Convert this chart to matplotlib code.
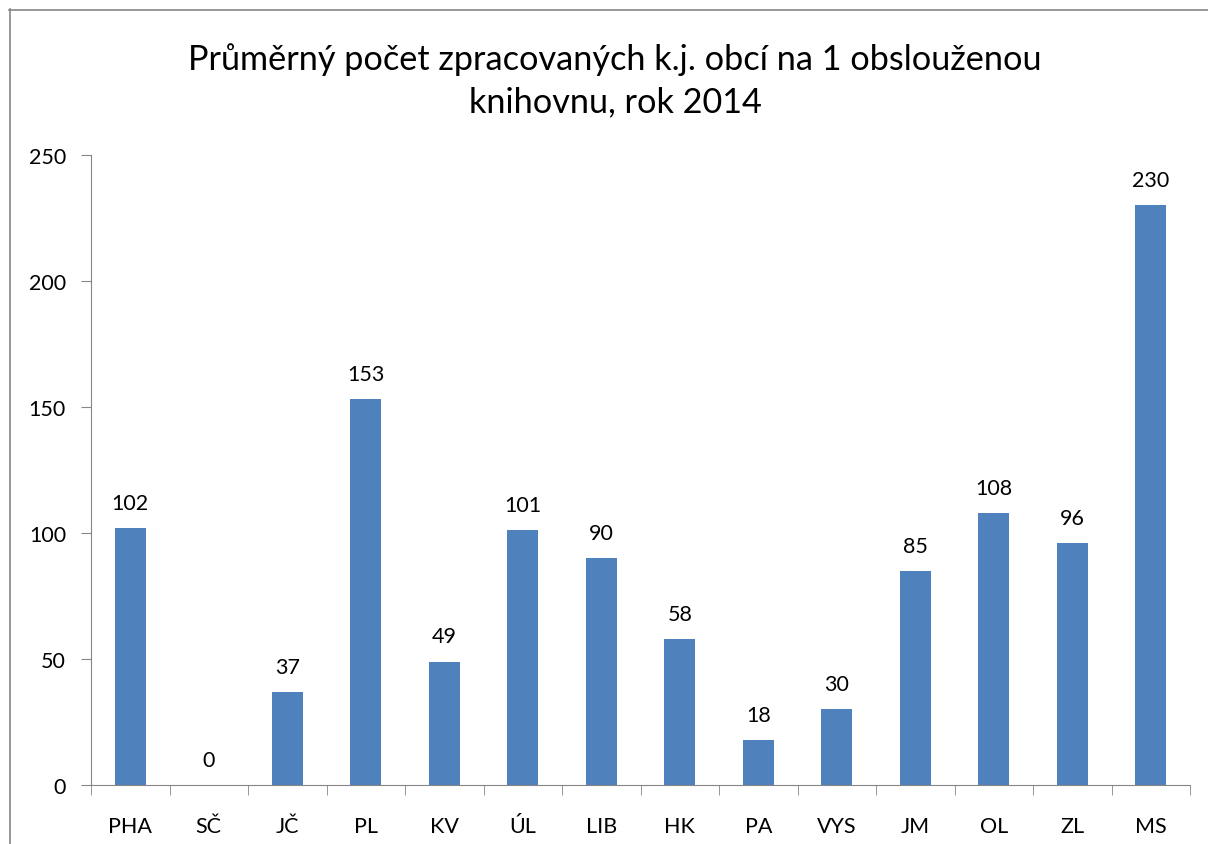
import matplotlib.pyplot as plt
from matplotlib.lines import Line2D

plt.rcParams['font.family'] = ['Lato', 'DejaVu Sans']

regions = ['PHA', 'SČ', 'JČ', 'PL', 'KV', 'ÚL', 'LIB', 'HK', 'PA', 'VYS', 'JM', 'OL', 'ZL', 'MS']
values = [102, 0, 37, 153, 49, 101, 90, 58, 18, 30, 85, 108, 96, 230]

fig = plt.figure(figsize=(12.08, 8.45), dpi=100)
ax = fig.add_axes([91 / 1208, 1 - 786 / 845, (1190 - 91) / 1208, (786 - 156) / 845])

x = list(range(len(regions)))
bars = ax.bar(x, values, width=0.4, color='#4f81bd')
for xi, v in zip(x, values):
    ax.text(xi, v + 6, str(v), ha='center', va='bottom', fontsize=15.5)

ax.set_xlim(-0.5, len(regions) - 0.5)
ax.set_ylim(0, 250)
ax.set_yticks(range(0, 251, 50))
ax.set_xticks(x)
ax.set_xticklabels(regions)
ax.set_xticks([i - 0.5 for i in range(len(regions) + 1)], minor=True)
ax.tick_params(axis='x', which='major', length=0, pad=22, labelsize=15.5)
ax.tick_params(axis='x', which='minor', length=7, color='#868686')
ax.tick_params(axis='y', length=7, color='#868686', pad=11, labelsize=15.5)

for s in ['top', 'right']:
    ax.spines[s].set_visible(False)
for s in ['left', 'bottom']:
    ax.spines[s].set_color('#868686')

fig.text(615 / 1208, 1 - 81 / 845, 'Průměrný počet zpracovaných k.j. obcí na 1 obslouženou\nknihovnu, rok 2014',
         ha='center', va='center', fontsize=24.7, linespacing=1.4)

# chart area border (left and top visible)
fig.add_artist(Line2D([9.5 / 1208, 9.5 / 1208], [0, 1 - 10 / 845], color='#868686', lw=1.2))
fig.add_artist(Line2D([9 / 1208, 1], [1 - 10.5 / 845, 1 - 10.5 / 845], color='#868686', lw=1.2))

fig.savefig('out.png', dpi=100)
